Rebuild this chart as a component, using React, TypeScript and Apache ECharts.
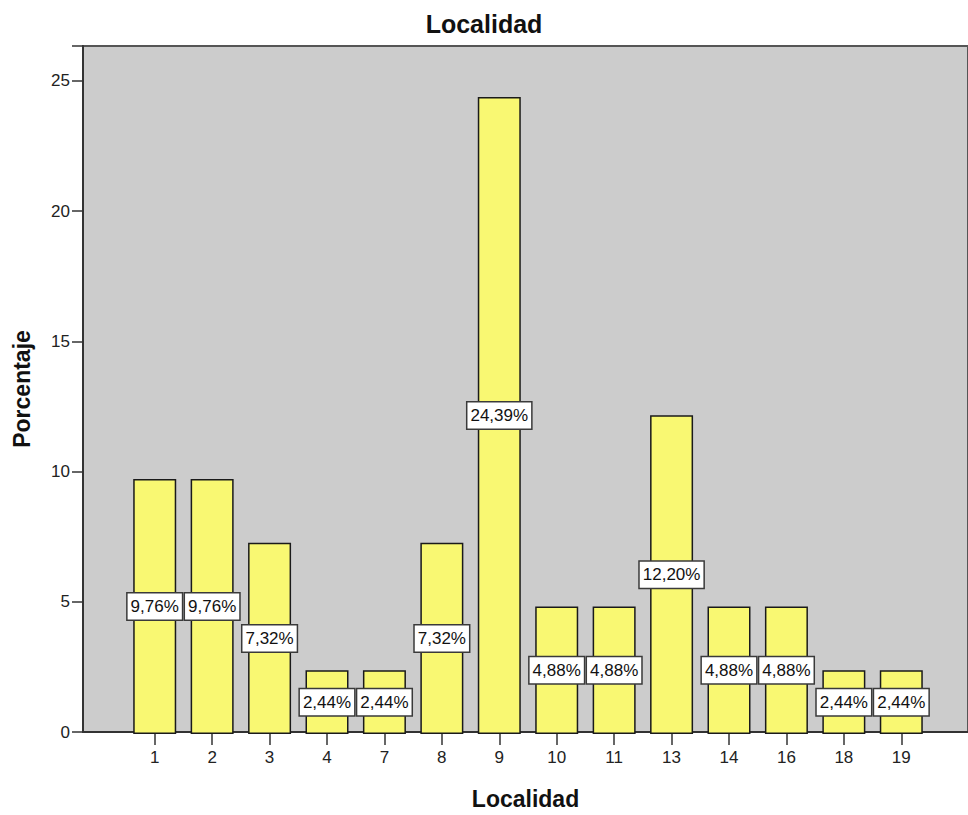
import React, { useEffect, useRef } from "react";
import * as echarts from "echarts";

const categories = ["1", "2", "3", "4", "7", "8", "9", "10", "11", "13", "14", "16", "18", "19"];
const percentages = [9.76, 9.76, 7.32, 2.44, 2.44, 7.32, 24.39, 4.88, 4.88, 12.2, 4.88, 4.88, 2.44, 2.44];
const yTicks = [0, 5, 10, 15, 20, 25];

const FONT = "Arial, 'Liberation Sans', sans-serif";
const Y_MAX = 26.34;

export default function App() {
  const ref = useRef<HTMLDivElement>(null);

  useEffect(() => {
    if (!ref.current) return;
    const chart = echarts.init(ref.current, undefined, { renderer: "svg" });
    const fmt = (v: number) => v.toFixed(2).replace(".", ",") + "%";

    chart.setOption({
      animation: false,
      backgroundColor: "#ffffff",
      title: {
        text: "Localidad",
        left: "center",
        top: 6,
        textStyle: { fontFamily: FONT, fontSize: 25, fontWeight: "bold", color: "#111111" },
      },
      grid: [
        {
          left: 83,
          top: 46,
          right: 0,
          bottom: 81,
          show: true,
          backgroundColor: "#cccccc",
          borderColor: "#555555",
          borderWidth: 2,
        },
        { left: 126, top: 46, width: 804, bottom: 81 },
      ],
      xAxis: [
        {
          gridIndex: 0,
          type: "value",
          min: 0,
          max: 1,
          axisLine: { show: true, onZero: false, lineStyle: { color: "#333333", width: 2 } },
          axisTick: { show: false },
          axisLabel: { show: false },
          splitLine: { show: false },
          name: "Localidad",
          nameLocation: "middle",
          nameGap: 55,
          nameTextStyle: { fontFamily: FONT, fontSize: 23, fontWeight: "bold", color: "#111111" },
        },
        {
          gridIndex: 1,
          type: "category",
          data: categories,
          axisLine: { show: false },
          axisTick: {
            show: true,
            alignWithLabel: true,
            interval: 0,
            length: 11,
            lineStyle: { color: "#333333", width: 1.5 },
          },
          axisLabel: { interval: 0, margin: 15, fontFamily: FONT, fontSize: 17, color: "#222222" },
        },
      ],
      yAxis: [
        {
          gridIndex: 0,
          type: "value",
          min: 0,
          max: Y_MAX,
          interval: 5,
          axisLine: { show: true, lineStyle: { color: "#333333", width: 2 } },
          axisTick: { show: true, length: 11, lineStyle: { color: "#333333", width: 1.5 } },
          axisLabel: {
            fontFamily: FONT,
            fontSize: 17,
            color: "#222222",
            margin: 13,
            formatter: (v: number) => (yTicks.includes(v) ? String(v) : ""),
          },
          splitLine: { show: false },
          name: "Porcentaje",
          nameLocation: "middle",
          nameGap: 50,
          nameTextStyle: { fontFamily: FONT, fontSize: 23, fontWeight: "bold", color: "#111111" },
        },
        {
          gridIndex: 1,
          type: "value",
          min: 0,
          max: Y_MAX,
          show: false,
        },
      ],
      series: [
        {
          type: "bar",
          xAxisIndex: 1,
          yAxisIndex: 1,
          data: percentages,
          barWidth: 43,
          itemStyle: { color: "#f9f872", borderColor: "#1a1a1a", borderWidth: 1.5 },
          label: {
            show: true,
            position: "inside",
            formatter: (p: any) => fmt(p.value),
            fontFamily: FONT,
            fontSize: 17,
            color: "#111111",
            backgroundColor: "#ffffff",
            borderColor: "#3a3a3a",
            borderWidth: 1.5,
            padding: [5, 3, 4, 3],
          },
        },
      ],
    });

    return () => chart.dispose();
  }, []);

  return (
    <div
      ref={ref}
      style={{ position: "fixed", left: 0, top: 0, width: 968, height: 815 }}
    />
  );
}
